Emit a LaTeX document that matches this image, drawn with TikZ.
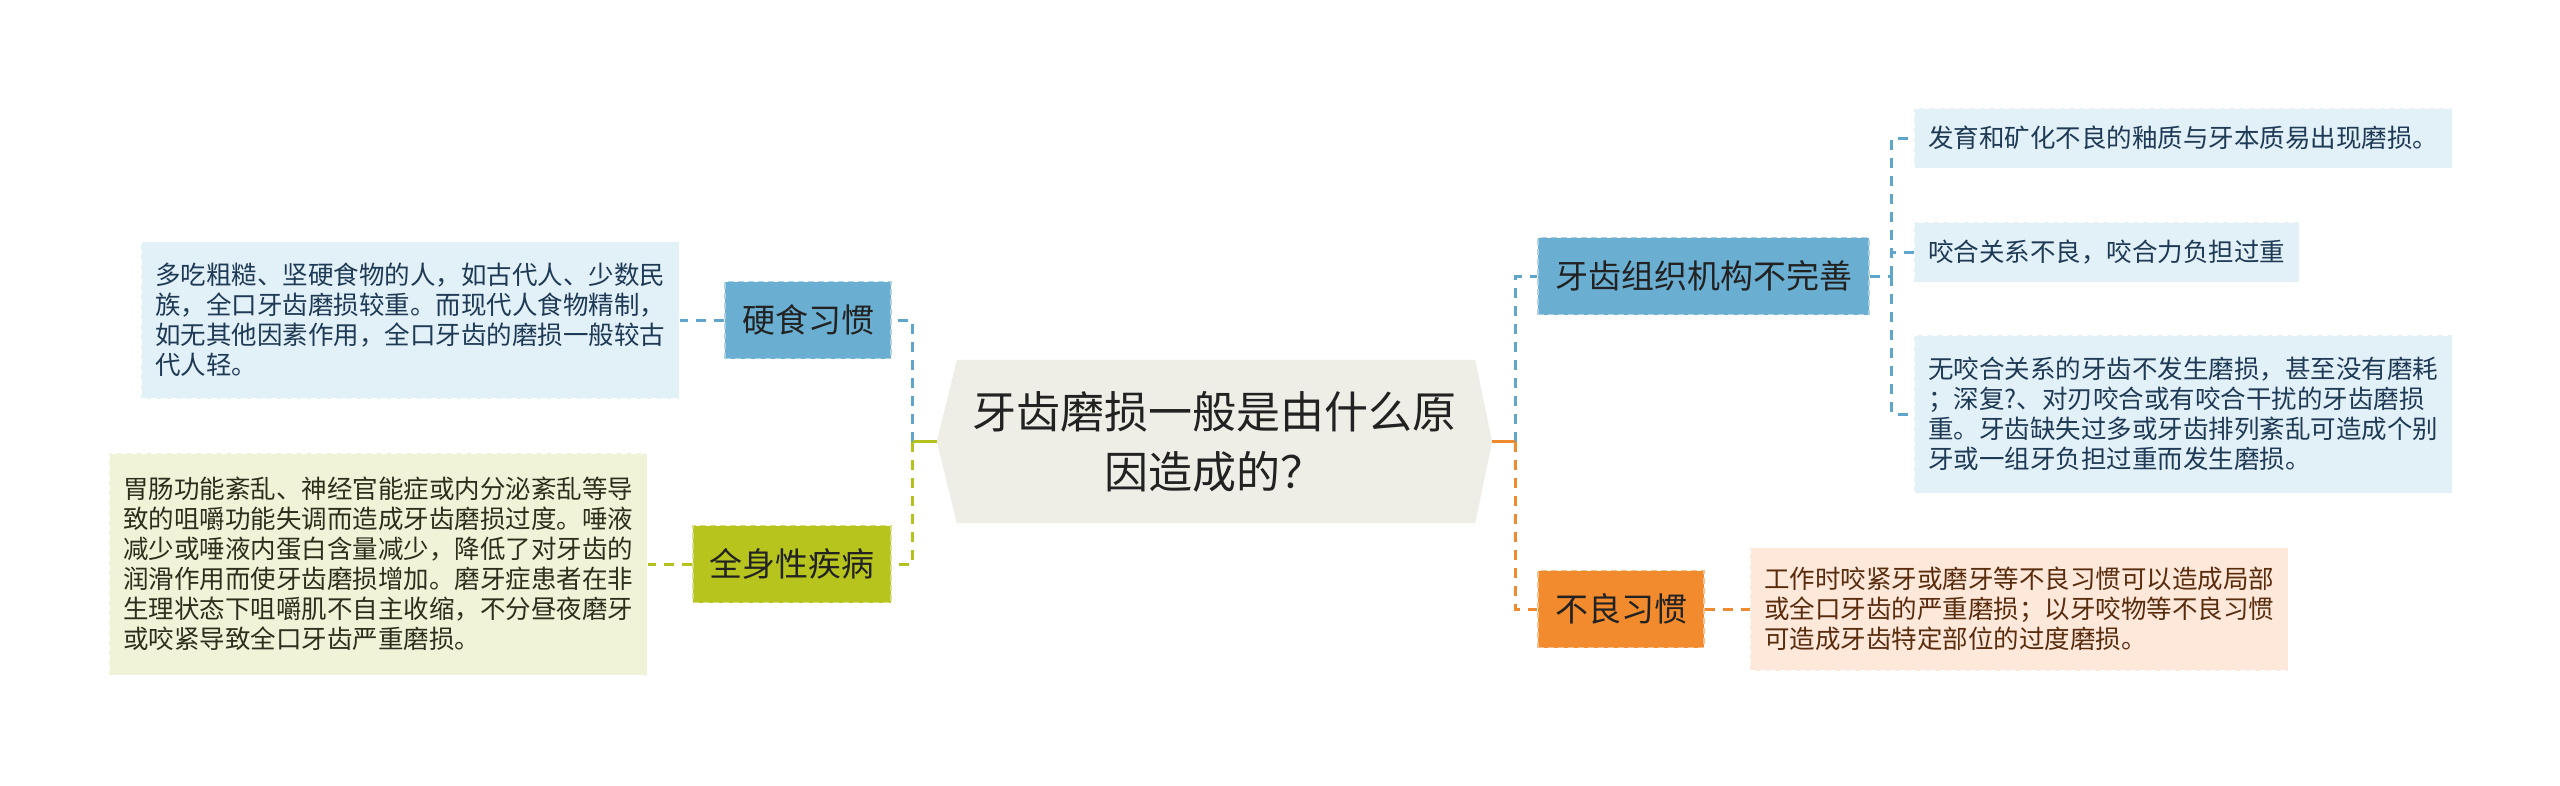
\documentclass[tikz,border=0pt]{standalone}
\usepackage{fontspec}
\setmainfont{Noto Sans CJK SC}
\usetikzlibrary{calc,backgrounds}
\definecolor{bluenode}{HTML}{6AAED2}
\definecolor{blueleaf}{HTML}{E2F0F8}
\definecolor{blueline}{HTML}{5FA5CC}
\definecolor{bluetext}{HTML}{1E3A55}
\definecolor{olivenode}{HTML}{B7C41E}
\definecolor{oliveleaf}{HTML}{F1F3D8}
\definecolor{oliveline}{HTML}{B5C21E}
\definecolor{olivetext}{HTML}{2E2E1C}
\definecolor{orangenode}{HTML}{F28B2E}
\definecolor{orangeleaf}{HTML}{FDE8DA}
\definecolor{orangeline}{HTML}{EF8A2E}
\definecolor{orangetext}{HTML}{5A2C0E}
\definecolor{rootfill}{HTML}{EFEEE6}
\definecolor{darktext}{HTML}{222222}
\tikzset{
  topic/.style={inner sep=0pt, minimum height=77pt, font=\fontsize{33}{40}\selectfont,
    text=darktext, dash pattern=on 6pt off 4pt, line width=1.2pt},
  leafbox/.style={align=left, inner xsep=14pt, inner ysep=0pt,
    font=\fontsize{25.5}{30}\selectfont, draw=white, dash pattern=on 6pt off 4pt, line width=1pt},
  conn/.style={line width=3pt, dash pattern=on 10pt off 8pt},
  joint/.style={line width=3pt},
}
\begin{document}
\begin{tikzpicture}[x=1pt,y=-1pt]
\begin{scope}[on background layer]
  \fill[white] (0,0) rectangle (2560,785);
\end{scope}
\useasboundingbox (0,0) rectangle (2560,785);

% root
\node[font=\fontsize{44}{60}\selectfont, align=center, text=darktext,
      minimum width=555pt, minimum height=163pt, inner sep=0pt] (root) at (1214.5,441.5)
      {牙齿磨损一般是由什么原\\因造成的？};
\begin{scope}[on background layer]
  \fill[rootfill] (root.west) -- ($(root.north west)+(20,0)$) -- ($(root.north east)+(-17,0)$)
     -- (root.east) -- ($(root.south east)+(-17,0)$) -- ($(root.south west)+(20,0)$) -- cycle;
\end{scope}

% main topics
\node[topic, fill=bluenode, draw=bluenode!55!white, minimum width=166pt] (hard) at (808,320) {硬食习惯};
\node[topic, fill=olivenode, draw=olivenode!55!white, minimum width=198pt] (sys) at (792,564) {全身性疾病};
\node[topic, fill=bluenode, draw=bluenode!55!white, minimum width=331pt] (tissue) at (1703.5,276) {牙齿组织机构不完善};
\node[topic, fill=orangenode, draw=orangenode!55!white, minimum width=166pt] (habit) at (1621,609) {不良习惯};

% leaves
\node[leafbox, fill=blueleaf, text=bluetext, minimum width=536pt, minimum height=157pt] (hardleaf) at (410,320)
  {多吃粗糙、坚硬食物的人，如古代人、少数民\\族，全口牙齿磨损较重。而现代人食物精制，\\如无其他因素作用，全口牙齿的磨损一般较古\\代人轻。};
\node[leafbox, fill=oliveleaf, text=olivetext, minimum width=538pt, minimum height=222pt] (sysleaf) at (378,564)
  {胃肠功能紊乱、神经官能症或内分泌紊乱等导\\致的咀嚼功能失调而造成牙齿磨损过度。唾液\\减少或唾液内蛋白含量减少，降低了对牙齿的\\润滑作用而使牙齿磨损增加。磨牙症患者在非\\生理状态下咀嚼肌不自主收缩，不分昼夜磨牙\\或咬紧导致全口牙齿严重磨损。};
\node[leafbox, fill=blueleaf, text=bluetext, minimum width=536pt, minimum height=60pt] (t1) at (2183,138)
  {发育和矿化不良的釉质与牙本质易出现磨损。};
\node[leafbox, fill=blueleaf, text=bluetext, minimum width=383pt, minimum height=60pt] (t2) at (2106.5,252)
  {咬合关系不良，咬合力负担过重};
\node[leafbox, fill=blueleaf, text=bluetext, minimum width=536pt, minimum height=158pt] (t3) at (2183,414)
  {无咬合关系的牙齿不发生磨损，甚至没有磨耗\\；深复?、对刃咬合或有咬合干扰的牙齿磨损\\重。牙齿缺失过多或牙齿排列紊乱可造成个别\\牙或一组牙负担过重而发生磨损。};
\node[leafbox, fill=orangeleaf, text=orangetext, minimum width=538pt, minimum height=123pt] (habitleaf) at (2019,609)
  {工作时咬紧牙或磨牙等不良习惯可以造成局部\\或全口牙齿的严重磨损；以牙咬物等不良习惯\\可造成牙齿特定部位的过度磨损。};

% connectors from root
\coordinate (jL) at ($(root.west)+(-24,0)$);
\coordinate (jR) at ($(root.east)+(23,0)$);
\draw[conn, blueline] (jL) |- (hard.east);
\draw[conn, oliveline] (jL) |- (sys.east);
\draw[joint, oliveline] (root.west) -- (jL);
\draw[conn, blueline] (jR) |- (tissue.west);
\draw[conn, orangeline] (jR) |- (habit.west);
\draw[joint, orangeline] (root.east) -- (jR);

% connectors to leaves
\draw[conn, blueline] (hard.west) -- (hardleaf.east);
\draw[conn, oliveline] (sys.west) -- (sysleaf.east);
\draw[conn, orangeline] (habit.east) -- (habitleaf.west);
\coordinate (jT) at ($(tissue.east)+(22,0)$);
\draw[conn, blueline] (tissue.east) -- (jT);
\draw[conn, blueline] (jT) |- (t1.west);
\draw[conn, blueline] (jT) |- (t2.west);
\draw[conn, blueline] (jT) |- (t3.west);
\end{tikzpicture}
\end{document}
